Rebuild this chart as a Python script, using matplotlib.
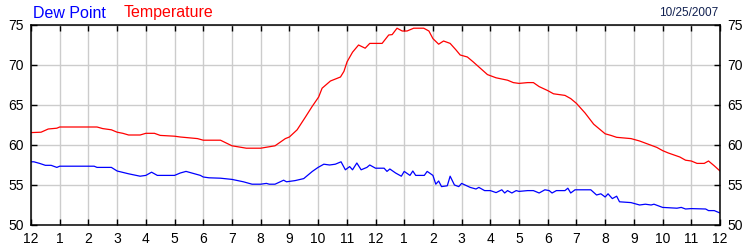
import matplotlib
matplotlib.use('Agg')
import matplotlib.pyplot as plt

# hours since midnight
temp_hours = [0.0, 0.35, 0.6, 0.9, 1.0, 2.3, 2.5, 2.8, 3.0, 3.2, 3.4, 3.8, 4.0, 4.3,
              4.5, 5.0, 5.2, 5.8, 6.0, 6.6, 7.0, 7.5, 8.0, 8.5, 8.86, 9.0, 9.27,
              9.56, 9.79, 10.02, 10.14, 10.43, 10.78, 10.9, 11.01, 11.2, 11.41,
              11.64, 11.8, 12.23, 12.46, 12.58, 12.75, 12.93, 13.1, 13.33, 13.68,
              13.86, 14.0, 14.2, 14.37, 14.6, 14.8, 14.95, 15.2, 15.4, 15.9, 16.2,
              16.6, 16.8, 17.0, 17.3, 17.5, 17.7, 18.0, 18.2, 18.6, 18.8, 19.0,
              19.3, 19.6, 20.0, 20.2, 20.4, 20.9, 21.2, 21.5, 21.8, 22.0, 22.2,
              22.6, 22.8, 23.0, 23.2, 23.45, 23.6, 23.8, 24.0]
temperature = [61.55, 61.6, 62.0, 62.1, 62.25, 62.25, 62.05, 61.9, 61.6, 61.46, 61.25,
               61.25, 61.46, 61.46, 61.2, 61.1, 61.0, 60.8, 60.6, 60.6, 59.9, 59.6,
               59.6, 59.9, 60.8, 61.0, 61.9, 63.5, 64.8, 66.0, 67.1, 68.0, 68.5,
               69.2, 70.4, 71.6, 72.5, 72.1, 72.7, 72.7, 73.75, 73.8, 74.6, 74.25,
               74.25, 74.6, 74.6, 74.25, 73.3, 72.6, 73.0, 72.7, 71.9, 71.25, 71.0,
               70.4, 68.8, 68.4, 68.1, 67.8, 67.7, 67.8, 67.8, 67.3, 66.8, 66.4,
               66.2, 65.8, 65.2, 64.0, 62.6, 61.4, 61.2, 60.96, 60.8, 60.5, 60.1,
               59.7, 59.3, 59.0, 58.5, 58.1, 58.0, 57.7, 57.7, 58.0, 57.4, 56.75]

dew_hours = [0.0, 0.1, 0.3, 0.5, 0.7, 0.9, 1.0, 2.2, 2.3, 2.8, 3.0, 3.4, 3.8, 4.0,
             4.2, 4.4, 5.0, 5.2, 5.4, 5.6, 5.9, 6.0, 6.2, 6.6, 7.0, 7.4, 7.7, 8.0,
             8.2, 8.3, 8.5, 8.8, 8.9, 9.2, 9.5, 9.8, 10.0, 10.2, 10.4, 10.6, 10.8,
             10.95, 11.1, 11.2, 11.35, 11.5, 11.7, 11.8, 12.0, 12.3, 12.4, 12.5,
             12.7, 12.9, 13.0, 13.2, 13.3, 13.4, 13.7, 13.8, 14.0, 14.1, 14.2,
             14.3, 14.5, 14.6, 14.75, 14.9, 15.0, 15.3, 15.5, 15.6, 15.8, 16.0,
             16.2, 16.4, 16.5, 16.6, 16.75, 16.9, 17.0, 17.3, 17.5, 17.7, 17.9,
             18.05, 18.15, 18.3, 18.6, 18.7, 18.8, 18.95, 19.1, 19.5, 19.7, 19.85,
             20.0, 20.1, 20.25, 20.4, 20.5, 20.9, 21.2, 21.4, 21.6, 21.7, 22.0,
             22.5, 22.65, 22.8, 23.0, 23.5, 23.6, 23.8, 24.0]
dew_point = [57.9, 57.9, 57.7, 57.46, 57.46, 57.2, 57.35, 57.35, 57.2, 57.2, 56.75,
             56.4, 56.1, 56.2, 56.6, 56.2, 56.2, 56.5, 56.7, 56.5, 56.2, 56.0, 55.9,
             55.85, 55.7, 55.4, 55.1, 55.1, 55.2, 55.1, 55.1, 55.6, 55.4, 55.55,
             55.8, 56.7, 57.2, 57.6, 57.5, 57.6, 57.9, 56.9, 57.3, 56.9, 57.75,
             56.9, 57.2, 57.5, 57.1, 57.1, 56.7, 57.0, 56.5, 56.1, 56.7, 56.2,
             56.75, 56.2, 56.2, 56.7, 56.2, 55.1, 55.5, 54.8, 54.9, 56.1, 55.0,
             54.8, 55.2, 54.7, 54.5, 54.7, 54.3, 54.3, 54.05, 54.4, 54.0, 54.3,
             54.0, 54.3, 54.2, 54.3, 54.3, 54.0, 54.4, 54.3, 54.0, 54.3, 54.3,
             54.6, 54.0, 54.4, 54.4, 54.4, 53.75, 53.9, 53.5, 53.9, 53.3, 53.6,
             52.9, 52.8, 52.5, 52.6, 52.5, 52.6, 52.2, 52.1, 52.2, 52.0, 52.05,
             52.0, 51.8, 51.8, 51.5]

hour_ticks = list(range(25))
hour_labels = ['12', '1', '2', '3', '4', '5', '6', '7', '8', '9', '10', '11',
               '12', '1', '2', '3', '4', '5', '6', '7', '8', '9', '10', '11', '12']
y_ticks = [50, 55, 60, 65, 70, 75]
date_label = '10/25/2007'

plt.rcParams['font.family'] = ['Liberation Sans', 'DejaVu Sans']

fig = plt.figure(figsize=(7.5, 2.5), dpi=100)
ax = fig.add_axes([31 / 750, 25 / 250, 689 / 750, 200 / 250])

ax.plot(dew_hours, dew_point, color='#0000ff', lw=0.9)
ax.plot(temp_hours, temperature, color='#ff0000', lw=0.9)

ax.set_xlim(0, 24)
ax.set_ylim(50, 75)
ax.set_xticks(hour_ticks)
ax.set_xticklabels(hour_labels)
ax.set_yticks(y_ticks)
ax.grid(True, color='#cccccc', lw=1)
ax.set_axisbelow(True)
ax.tick_params(direction='in', length=4, width=1, color='black', labelsize=10,
               top=True, right=True, labelright=True, pad=5)
for s in ax.spines.values():
    s.set_linewidth(1.1)

fig.text(33 / 750, 1 - 13 / 250, 'Dew Point', color='#0000ff', fontsize=11.5,
         va='center', ha='left')
fig.text(124 / 750, 1 - 13 / 250, 'Temperature', color='#ff0000', fontsize=11.5,
         va='center', ha='left')
fig.text(718 / 750, 1 - 13 / 250, date_label, color='#102050', fontsize=8.5,
         va='center', ha='right')

fig.savefig('out.png', dpi=100)
